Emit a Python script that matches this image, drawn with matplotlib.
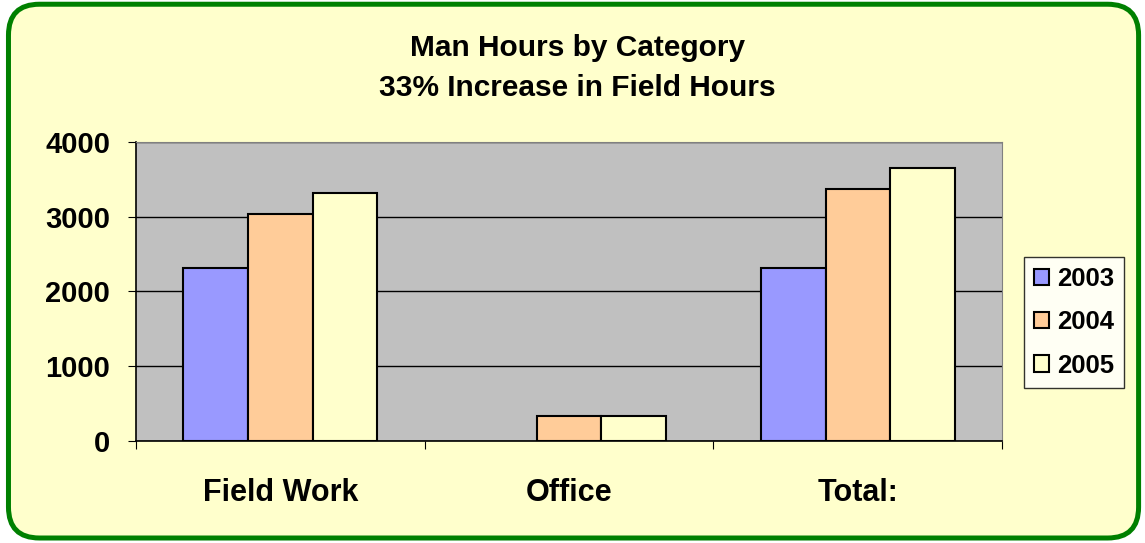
from matplotlib import pyplot as plt
from matplotlib.patches import FancyBboxPatch
import numpy as np

# data (no 2003 value for Office)
categories = ['Field Work', 'Office', 'Total:']
years = ['2003', '2004', '2005']
hours_2003 = [2310, np.nan, 2310]
hours_2004 = [3037, 334, 3371]
hours_2005 = [3322, 334, 3656]
series = [hours_2003, hours_2004, hours_2005]
colors = ['#9999FF', '#FFCC99', '#FFFFCC']

plt.rcParams['font.family'] = ['Liberation Sans', 'DejaVu Sans']
plt.rcParams['font.weight'] = 'bold'

fig = plt.figure(figsize=(11.45, 5.43), dpi=100)
fig.patch.set_facecolor('white')

# rounded green frame
frame = FancyBboxPatch((0.0074, 0.0092), 0.987, 0.983,
                       boxstyle='round,pad=0,rounding_size=0.027',
                       transform=fig.transFigure, facecolor='#FFFFCC',
                       edgecolor='#008000', linewidth=3.6,
                       mutation_aspect=1145 / 543, zorder=-10)
fig.patches.append(frame)

ax = fig.add_axes([0.1188, 0.188, 0.7565, 0.5505])
ax.set_zorder(2)
ax.set_facecolor('#C0C0C0')

x = np.arange(len(categories))
width = 0.224
for i, (vals, col, yr) in enumerate(zip(series, colors, years)):
    ax.bar(x + (i - 1) * width, vals, width, color=col, edgecolor='black',
           linewidth=1.5, label=yr, zorder=3)

ax.set_xlim(-0.5, 2.5)
ax.set_ylim(0, 4000)
ax.set_yticks([0, 1000, 2000, 3000, 4000])
ax.yaxis.grid(True, color='black', linewidth=1, zorder=1)
ax.set_axisbelow(True)

ax.set_xticks([-0.5, 0.5, 1.5, 2.5])
ax.set_xticklabels([])
ax.set_xticks(x, minor=True)
ax.set_xticklabels(categories, minor=True, fontsize=22, fontweight='bold')
ax.tick_params(axis='x', which='minor', length=0, pad=27)
ax.tick_params(axis='x', which='major', length=6, direction='out', color='black')
ax.tick_params(axis='y', labelsize=21, length=6, direction='out', pad=12.5)
for lab in ax.get_yticklabels():
    lab.set_fontweight('bold')

for side in ['top', 'right']:
    ax.spines[side].set_color('#808080')
for side in ['left', 'bottom']:
    ax.spines[side].set_color('black')
    ax.spines[side].set_linewidth(1.2)

fig.text(0.504, 0.912, 'Man Hours by Category', ha='center', va='center',
         fontsize=21.5, fontweight='bold')
fig.text(0.504, 0.838, '33% Increase in Field Hours', ha='center', va='center',
         fontsize=21.5, fontweight='bold')

leg = fig.legend(loc='upper left', bbox_to_anchor=(0.894, 0.527), fontsize=18.5,
                 frameon=True, fancybox=False, edgecolor='black',
                 handlelength=0.6, handleheight=0.6, handletextpad=0.3,
                 labelspacing=0.75, borderpad=0.4, borderaxespad=0)
leg.get_frame().set_linewidth(1)
leg.set_zorder(3)
for t in leg.get_texts():
    t.set_fontweight('bold')

fig.savefig('out.png', dpi=100)
